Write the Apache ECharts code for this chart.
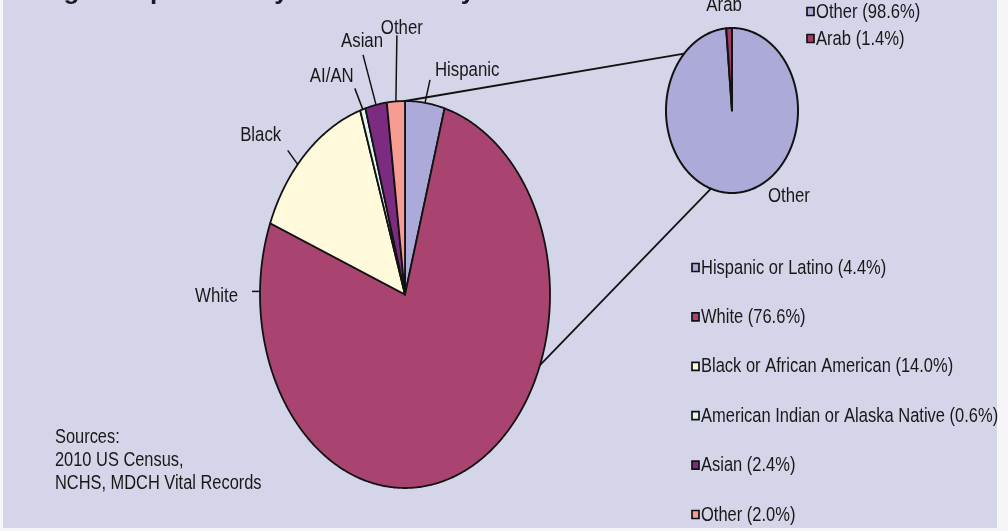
<!DOCTYPE html>
<html><head><meta charset="utf-8">
<script src="https://cdn.jsdelivr.net/npm/echarts@6/dist/echarts.min.js"></script>
<style>html,body{margin:0;padding:0;background:#f6f6f9;} #c{width:1008px;height:531px;}</style>
</head><body><div id="c"></div>
<script>
// ---------------- data ----------------
const titleText = 'Michigan Population by Race/Ethnicity';
const mainCategories = ['Hispanic or Latino', 'White', 'Black or African American', 'American Indian or Alaska Native', 'Asian', 'Other'];
const mainShortLabels = ['Hispanic', 'White', 'Black', 'AI/AN', 'Asian', 'Other'];
const mainValues = [4.4, 76.6, 14.0, 0.6, 2.4, 2.0];
const subCategories = ['Other', 'Arab'];
const subShortLabels = ['Other', 'Arab'];
const subValues = [98.6, 1.4];
const sourceLines = ['Sources:', '2010 US Census,', 'NCHS, MDCH Vital Records'];

// ---------------- styles / layout ----------------
const FONT = '"Liberation Sans", Arial, sans-serif';
const NARROW = 0.82; // horizontal squeeze of the original text
const mainColors = ['#abaad9', '#a9436f', '#fffadb', '#e4f5ef', '#7b2b80', '#f69c92'];
const subColors = ['#abaad9', '#a13c69'];
const MAIN = {cx: 405, cy: 294.5, rx: 145, ry: 193.5};
const SUB = {cx: 732, cy: 110.5, rx: 66, ry: 82.5};
const mainLabelLayout = [
  {at: 0.5, lx: 5, ly: -23, tx: 10, ty: -33, align: 'left'},
  {at: 0.925, lx: -8, ly: 0, tx: -22, ty: 5, align: 'right'},
  {at: 0.41, lx: -10, ly: -14, tx: -37, ty: -29, align: 'center'},
  {at: 0.5, lx: -8, ly: -21, tx: -31, ty: -33, align: 'center'},
  {at: 0.5, lx: -13, ly: -50, tx: -14, ty: -64, align: 'center'},
  {at: 0.5, lx: 1, ly: -66, tx: 6, ty: -73, align: 'center'}
];
const subLabelLayout = [
  {at: 0.5, tx: 54, ty: 3, align: 'center'},
  {at: 0.5, tx: -5, ty: -23, align: 'center'}
];
const connectorAngles = [[0, -46.4], [111.4, 198.6]];
const legendMainBox = {x: 692, y: 268, step: 49.4, squeeze: 0.805};
const legendSubBox = {x: 807, y: 12, step: 27, squeeze: 0.81};

function ellPt(P, ang) {
  const r = ang * Math.PI / 180;
  return [P.cx + P.rx * Math.sin(r), P.cy - P.ry * Math.cos(r)];
}
function slicePoly(P, a0, a1) {
  const pts = [[P.cx, P.cy]];
  const n = Math.max(2, Math.ceil((a1 - a0) / 0.5));
  for (let k = 0; k <= n; k++) pts.push(ellPt(P, a0 + (a1 - a0) * k / n));
  return pts;
}
function narrowText(x, y, text, size, align, squeeze) {
  return {type: 'text', x: x, y: y, scaleX: squeeze || NARROW,
    style: {text: text, font: size + 'px ' + FONT, fill: '#181818', align: align || 'left', verticalAlign: 'middle'}};
}
function makePieRender(P, values, colors, labels, layout, lw) {
  const total = values.reduce((a, b) => a + b, 0);
  const cum = [0];
  values.forEach(v => cum.push(cum[cum.length - 1] + v));
  return function (params, api) {
    const i = params.dataIndex;
    const v = api.value(0);
    const a0 = cum[i] / total * 360;
    const a1 = a0 + v / total * 360;
    const children = [{
      type: 'polygon', shape: {points: slicePoly(P, a0, a1)},
      style: {fill: colors[i], stroke: '#121212', lineWidth: lw, lineJoin: 'round'}
    }];
    const L = layout[i];
    const anc = ellPt(P, a0 + (a1 - a0) * L.at);
    if (L.lx !== undefined) {
      children.push({type: 'line', shape: {x1: anc[0], y1: anc[1], x2: anc[0] + L.lx, y2: anc[1] + L.ly},
        style: {stroke: '#121212', lineWidth: 1.5}});
    }
    children.push(narrowText(anc[0] + L.tx, anc[1] + L.ty, labels[i], 20.5, L.align));
    return {type: 'group', children};
  };
}
function legendGraphics(cats, vals, colors, B) {
  const out = [];
  cats.forEach((c, i) => {
    const y = B.y + i * B.step;
    out.push({type: 'rect', shape: {x: B.x, y: y - 4.5, width: 7, height: 8},
      style: {fill: colors[i], stroke: '#121212', lineWidth: 1.7}});
    out.push(narrowText(B.x + 9, y, c + ' (' + vals[i].toFixed(1) + '%)', 20.5, 'left', B.squeeze));
  });
  return out;
}

const chart = echarts.init(document.getElementById('c'), null, {renderer: 'canvas'});
chart.setOption({
  backgroundColor: '#f6f6f9',
  animation: false,
  graphic: [
    {type: 'rect', z: -10, shape: {x: 3, y: 0, width: 994, height: 528}, style: {fill: '#d5d5e9'}},
    {type: 'text', x: -3, y: -8, style: {text: titleText, font: 'bold 26px ' + FONT, fill: '#1a1a24', verticalAlign: 'middle'}},
    ...sourceLines.map((t, i) => narrowText(55, 437 + i * 23, t, 20, 'left')),
    ...legendGraphics(subCategories, subValues, subColors, legendSubBox),
    ...legendGraphics(mainCategories, mainValues, mainColors, legendMainBox)
  ],
  series: [
    {
      type: 'custom', name: 'connectors', coordinateSystem: 'none', z: 1, silent: true,
      data: connectorAngles.map((_, i) => i),
      renderItem: function (params) {
        const c = connectorAngles[params.dataIndex];
        const p1 = ellPt(MAIN, c[0]), p2 = ellPt(SUB, c[1]);
        return {type: 'line', shape: {x1: p1[0], y1: p1[1], x2: p2[0], y2: p2[1]}, style: {stroke: '#121212', lineWidth: 1.8}};
      }
    },
    {
      type: 'custom', name: 'Michigan population', coordinateSystem: 'none', z: 2, silent: true,
      data: mainValues,
      renderItem: makePieRender(MAIN, mainValues, mainColors, mainShortLabels, mainLabelLayout, 1.8)
    },
    {
      type: 'custom', name: 'White breakdown', coordinateSystem: 'none', z: 2, silent: true,
      data: subValues,
      renderItem: makePieRender(SUB, subValues, subColors, subShortLabels, subLabelLayout, 2)
    }
  ]
});
</script></body></html>
